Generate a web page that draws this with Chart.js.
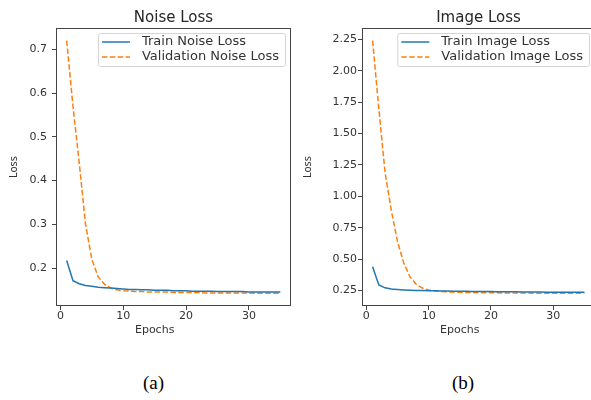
<!DOCTYPE html>
<html>
<head>
<meta charset="utf-8">
<script src="https://cdn.jsdelivr.net/npm/chart.js@4.4.0/dist/chart.umd.min.js"></script>
<style>
    html, body { margin: 0; padding: 0; background: #fff; overflow: hidden; width: 591px; height: 400px; }
    canvas { position: absolute; top: 0; }
    #noiseChart { left: 0; }
    #imageChart { left: 295px; }
    .cap { position: absolute; top: 372px; font-family: "Liberation Serif", "DejaVu Serif", serif; font-size: 19px; color: #000; }
</style>
</head>
<body>
<canvas id="noiseChart" width="295" height="345"></canvas>
<canvas id="imageChart" width="305" height="345"></canvas>
<div class="cap" style="left:143px">(a)</div>
<div class="cap" style="left:452px">(b)</div>
<script>
const epochs = [1, 2, 3, 4, 5, 6, 7, 8, 9, 10, 11, 12, 13, 14, 15, 16, 17, 18, 19, 20,
    21, 22, 23, 24, 25, 26, 27, 28, 29, 30, 31, 32, 33, 34, 35];

const trainNoise = [0.217, 0.171, 0.164, 0.160, 0.158, 0.156, 0.155, 0.154, 0.153, 0.152,
    0.151, 0.151, 0.150, 0.150, 0.149, 0.149, 0.149, 0.148, 0.148, 0.148,
    0.147, 0.147, 0.147, 0.147, 0.146, 0.146, 0.146, 0.146, 0.146, 0.145,
    0.145, 0.145, 0.145, 0.145, 0.145];
const valNoise = [0.720, 0.570, 0.440, 0.300, 0.220, 0.180, 0.163, 0.154, 0.150, 0.148,
    0.147, 0.146, 0.146, 0.145, 0.145, 0.145, 0.145, 0.144, 0.144, 0.144,
    0.144, 0.144, 0.143, 0.143, 0.143, 0.143, 0.143, 0.143, 0.143, 0.143,
    0.142, 0.142, 0.142, 0.142, 0.142];

const trainImage = [0.440, 0.295, 0.272, 0.262, 0.258, 0.255, 0.253, 0.251, 0.250, 0.249,
    0.248, 0.247, 0.246, 0.245, 0.244, 0.244, 0.243, 0.243, 0.242, 0.242,
    0.241, 0.241, 0.240, 0.240, 0.239, 0.239, 0.238, 0.238, 0.237, 0.237,
    0.237, 0.236, 0.236, 0.236, 0.236];
const valImage = [2.240, 1.700, 1.190, 0.890, 0.640, 0.470, 0.360, 0.300, 0.270, 0.255,
    0.247, 0.243, 0.240, 0.238, 0.236, 0.235, 0.234, 0.233, 0.233, 0.232,
    0.232, 0.231, 0.231, 0.230, 0.230, 0.230, 0.229, 0.229, 0.229, 0.229,
    0.228, 0.228, 0.228, 0.228, 0.228];

const xTicks = [0, 10, 20, 30];
const noiseTicks = [0.2, 0.3, 0.4, 0.5, 0.6, 0.7];
const imageTicks = [0.25, 0.50, 0.75, 1.00, 1.25, 1.50, 1.75, 2.00, 2.25];

const FONT = '"DejaVu Sans", sans-serif';
const TEXT = '#333';
const AXIS = '#444';

// рамка вокруг области графика, легенда внутри неё и подпись оси X (как в исходной картинке)
const frameAndLegend = {
    id: 'frameAndLegend',
    afterDatasetsDraw(chart) {
        const { ctx, chartArea: a } = chart;
        ctx.save();
        ctx.strokeStyle = AXIS;
        ctx.lineWidth = 1;
        ctx.setLineDash([]);
        ctx.strokeRect(Math.round(a.left) + 0.5, Math.round(a.top) + 0.5,
            Math.round(a.width) - 1, Math.round(a.height) - 1);

        const items = chart.data.datasets;
        ctx.font = '13px ' + FONT;
        const textW = Math.max(...items.map(d => ctx.measureText(d.label).width));
        const w = 4 + 28 + 12 + textW + 6;
        const h = 33;
        const x0 = a.right - 6 - w;
        const y0 = a.top + 5;

        ctx.fillStyle = 'rgba(255,255,255,0.8)';
        ctx.strokeStyle = '#d5d5d5';
        ctx.beginPath();
        ctx.roundRect(x0 + 0.5, y0 + 0.5, w, h, 2);
        ctx.fill();
        ctx.stroke();

        items.forEach((d, i) => {
            const y = y0 + 9 + i * 15;
            ctx.strokeStyle = d.borderColor;
            ctx.lineWidth = d.borderWidth;
            ctx.setLineDash(d.borderDash || []);
            ctx.beginPath();
            ctx.moveTo(x0 + 4, y);
            ctx.lineTo(x0 + 32, y);
            ctx.stroke();
            ctx.setLineDash([]);
            ctx.fillStyle = TEXT;
            ctx.textBaseline = 'middle';
            ctx.textAlign = 'left';
            ctx.fillText(d.label, x0 + 44, y);
        });

        // "Epochs" в исходнике стоит левее центра оси
        const xs = chart.scales.x;
        ctx.font = '11px ' + FONT;
        ctx.fillStyle = TEXT;
        ctx.textAlign = 'center';
        ctx.textBaseline = 'middle';
        ctx.fillText('Epochs', xs.getPixelForValue(15), xs.bottom - 7);
        ctx.restore();
    }
};

function createLossChart(canvasId, title, trainLabel, valLabel, train, val, yTicks, opts) {
    const all = train.concat(val);
    const lo = Math.min(...all), hi = Math.max(...all);
    const pad = (hi - lo) * 0.05;

    return new Chart(document.getElementById(canvasId), {
        type: 'line',
        data: {
            labels: epochs,
            datasets: [{
                label: trainLabel,
                data: epochs.map((e, i) => ({ x: e, y: train[i] })),
                borderColor: '#1f77b4',
                borderWidth: 1.5,
                pointRadius: 0,
                tension: 0
            }, {
                label: valLabel,
                data: epochs.map((e, i) => ({ x: e, y: val[i] })),
                borderColor: '#ff7f0e',
                borderWidth: 1.5,
                borderDash: [5.5, 2.4],
                pointRadius: 0,
                tension: 0
            }]
        },
        options: {
            responsive: false,
            animation: false,
            layout: { padding: { left: 0, right: opts.right, top: 0, bottom: 8 } },
            plugins: {
                legend: { display: false },
                tooltip: { enabled: false },
                title: {
                    display: true,
                    text: title,
                    fullSize: false,
                    color: '#262626',
                    font: { family: FONT, size: 15, weight: 'normal' },
                    padding: { top: 9, bottom: 1 }
                }
            },
            scales: {
                x: {
                    type: 'linear',
                    min: -0.7,
                    max: 36.7,
                    afterFit: s => { s.height = 31; },
                    afterBuildTicks: s => { s.ticks = xTicks.map(v => ({ value: v })); },
                    grid: { drawOnChartArea: false, drawTicks: true, tickLength: 4, tickColor: AXIS },
                    border: { display: false },
                    ticks: { color: TEXT, font: { family: FONT, size: 11 }, padding: 0, maxRotation: 0 },
                    title: { display: false }
                },
                y: {
                    type: 'linear',
                    min: lo - pad,
                    max: hi + pad,
                    afterFit: s => { s.width = opts.yWidth; },
                    afterBuildTicks: s => { s.ticks = yTicks.map(v => ({ value: v })); },
                    grid: { drawOnChartArea: false, drawTicks: true, tickLength: 4, tickColor: AXIS },
                    border: { display: false },
                    ticks: {
                        color: TEXT,
                        font: { family: FONT, size: 11 },
                        padding: opts.tickPad,
                        callback: v => v.toFixed(opts.digits)
                    },
                    title: { display: true, text: 'Loss', color: TEXT, font: { family: FONT, size: 10 }, padding: { top: opts.titlePad, bottom: 0 } }
                }
            }
        },
        plugins: [frameAndLegend]
    });
}

createLossChart('noiseChart', 'Noise Loss', 'Train Noise Loss', 'Validation Noise Loss',
    trainNoise, valNoise, noiseTicks, { right: 4, yWidth: 56, tickPad: 5, titlePad: 8, digits: 1 });
createLossChart('imageChart', 'Image Loss', 'Train Image Loss', 'Validation Image Loss',
    trainImage, valImage, imageTicks, { right: 5, yWidth: 67, tickPad: 1, titlePad: 7, digits: 2 });
</script>
</body>
</html>
